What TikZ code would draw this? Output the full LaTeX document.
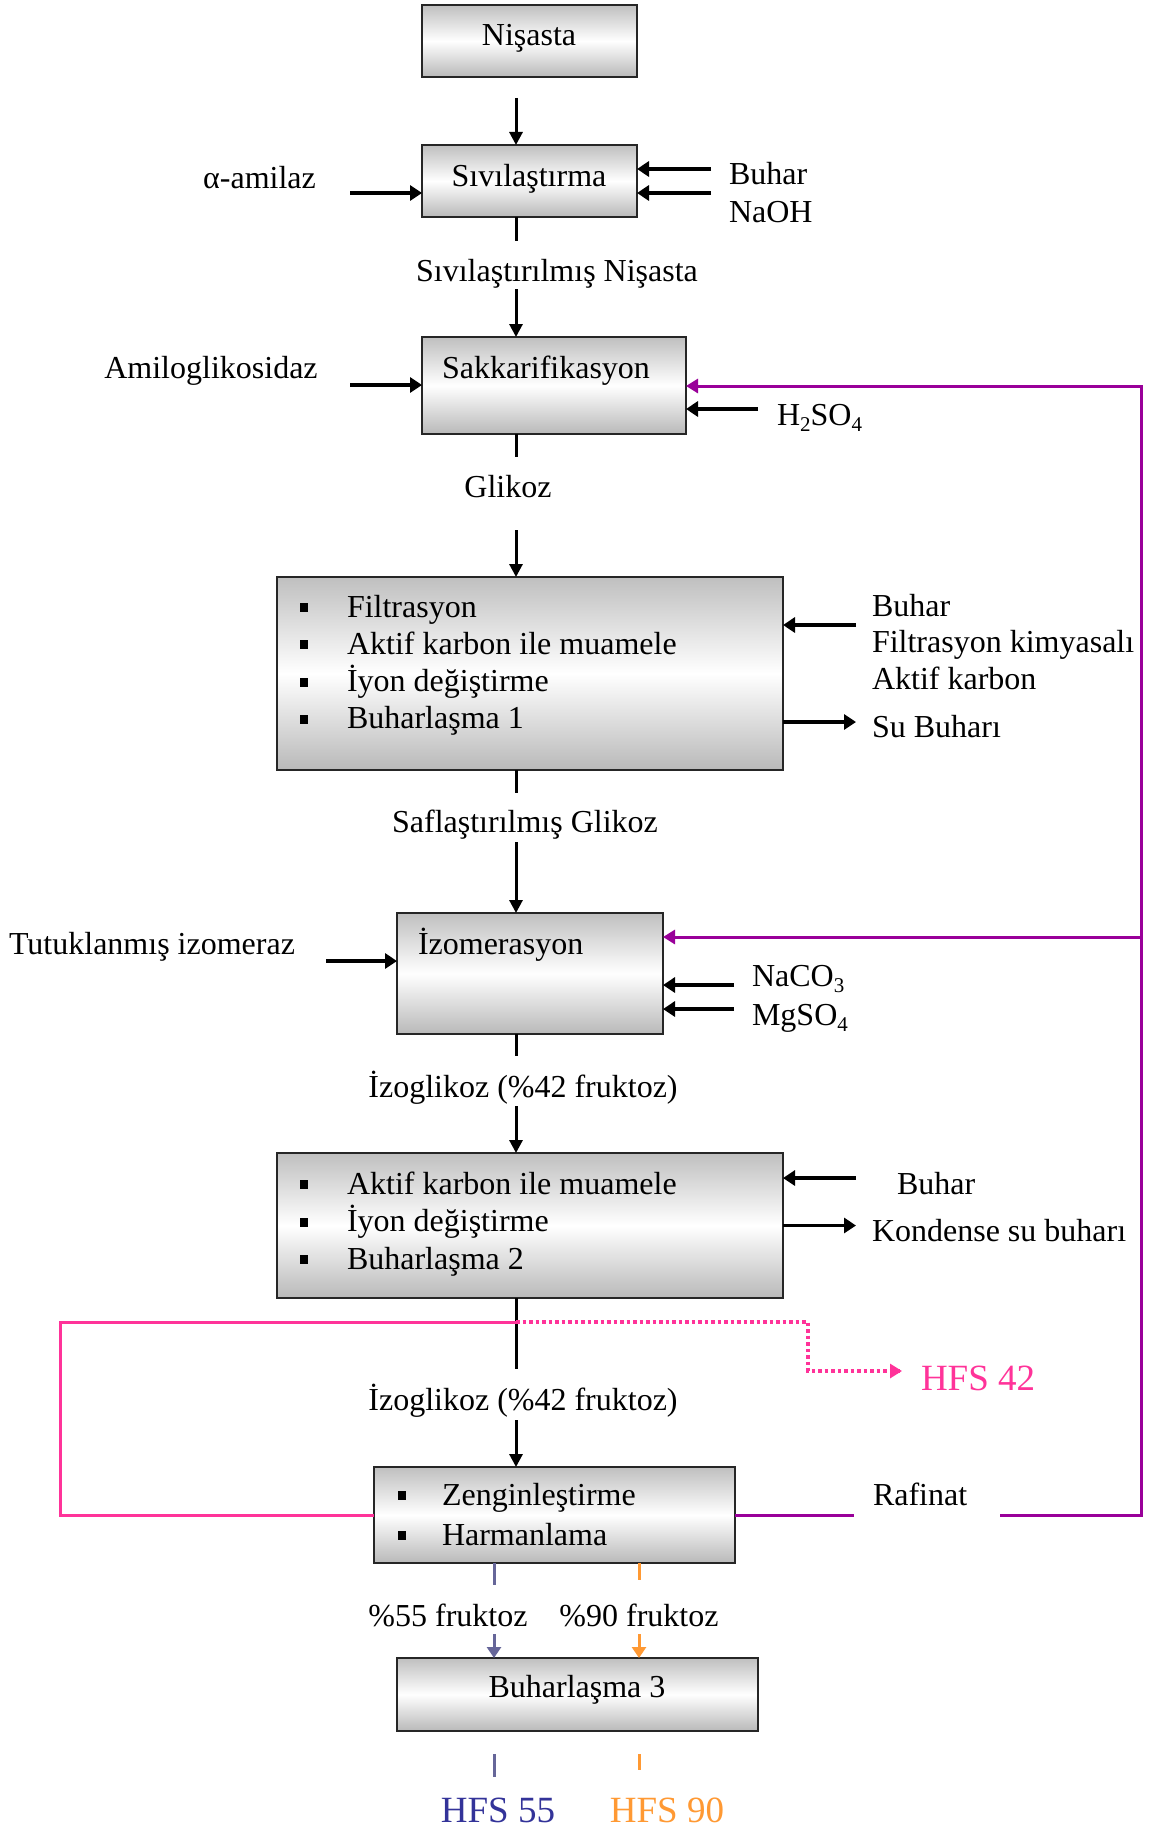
\documentclass[tikz,border=0pt]{standalone}
\usepackage{fontspec}
\setmainfont{Liberation Serif}
\usetikzlibrary{arrows.meta}
\definecolor{purp}{RGB}{153,0,153}
\definecolor{pinkc}{RGB}{255,51,153}
\definecolor{bluel}{RGB}{102,102,153}
\definecolor{bluet}{RGB}{51,51,153}
\definecolor{orangec}{RGB}{255,153,51}
\newcommand\mysub[1]{\raisebox{-6pt}{\fontsize{21}{21}\selectfont #1}}
\newcommand\bul[1]{\makebox[#1][l]{\rule[5pt]{8pt}{9pt}}}
\newcommand\lst[2]{{\fontsize{32}{#1}\selectfont\begin{tabular}[t]{@{}l@{}}#2\end{tabular}}}
\begin{document}
\begin{tikzpicture}[x=1pt,y=-1pt,
  every node/.style={font=\fontsize{32}{37}\selectfont, inner sep=0pt, outer sep=0pt},
  box/.style={draw=black!85, line width=2.5pt, rectangle, inner sep=0pt,
    top color=gray!50, bottom color=gray!55, middle color=white},
  txt/.style={anchor=base},
  ltxt/.style={anchor=base west},
  big/.style={font=\fontsize{37}{40}\selectfont},
  ln/.style={line width=3pt},
  arr/.style={line width=3pt, -{Triangle[length=13pt,width=13pt]}},
  harr/.style={line width=3.5pt, -{Triangle[length=12pt,width=15pt]}},
  pline/.style={line width=3pt},
  parr/.style={line width=3pt, -{Triangle[length=12pt,width=14pt]}},
  carr/.style={line width=3pt, -{Triangle[length=11pt,width=14pt]}},
]
\fill[white] (0,0) rectangle (1148,1827);
\useasboundingbox (0,0) rectangle (1148,1827);

% boxes
\node[box, minimum width=215pt, minimum height=72pt] (n1) at (529.5,41) {};
\node[box, minimum width=215pt, minimum height=72pt] (n2) at (529.5,181) {};
\node[box, minimum width=264pt, minimum height=97pt] (n3) at (554,385.5) {};
\node[box, minimum width=506pt, minimum height=193pt] (n4) at (530,673.5) {};
\node[box, minimum width=266pt, minimum height=121pt] (n5) at (530,973.5) {};
\node[box, minimum width=506pt, minimum height=145pt] (n6) at (530,1225.5) {};
\node[box, minimum width=361pt, minimum height=96pt] (n7) at (554.5,1515) {};
\node[box, minimum width=361pt, minimum height=73pt] (n8) at (577.5,1694.5) {};

% box texts
\node[txt] (t1) at (529,46) {Nişasta};
\node[txt] (t2) at (529,187) {Sıvılaştırma};
\node[txt] (t3) at (546,378) {Sakkarifikasyon};
\node[ltxt] (t4) at (300,617) {\lst{37}{\bul{47pt}Filtrasyon\\ \bul{47pt}Aktif karbon ile muamele\\ \bul{47pt}İyon değiştirme\\ \bul{47pt}Buharlaşma 1}};
\node[ltxt] (t5) at (418,954) {İzomerasyon};
\node[ltxt] (t6) at (300,1194) {\lst{37.5}{\bul{47pt}Aktif karbon ile muamele\\ \bul{47pt}İyon değiştirme\\ \bul{47pt}Buharlaşma 2}};
\node[ltxt] (t7) at (398,1505) {\lst{40}{\bul{44pt}Zenginleştirme\\ \bul{44pt}Harmanlama}};
\node[txt] (t8) at (577,1697) {Buharlaşma 3};

% side labels
\node[txt] (tal) at (259.5,189) {α-amilaz};
\node[ltxt] (tbu) at (729,185) {\lst{38}{Buhar\\NaOH}};
\node[txt] (tl1) at (557,281) {Sıvılaştırılmış Nişasta};
\node[txt] (tam) at (211,378) {Amiloglikosidaz};
\node[ltxt] (th) at (777,425) {H\mysub{2}SO\mysub{4}};
\node[txt] (tgl) at (508,497) {Glikoz};
\node[ltxt] (t4r) at (872,616) {\lst{36.5}{Buhar\\Filtrasyon kimyasalı\\Aktif karbon}};
\node[ltxt] (tsu) at (872,737) {Su Buharı};
\node[txt] (tsg) at (525,832) {Saflaştırılmış Glikoz};
\node[txt] (ttu) at (152,954) {Tutuklanmış izomeraz};
\node[ltxt] (tna) at (752,986) {NaCO\mysub{3}};
\node[ltxt] (tmg) at (752,1025) {MgSO\mysub{4}};
\node[txt] (tiz1) at (523,1097) {İzoglikoz (\%42 fruktoz)};
\node[ltxt] (tb6) at (897,1194) {Buhar};
\node[ltxt] (tko) at (872,1241.5) {Kondense su buharı};
\node[txt] (tiz2) at (523,1410) {İzoglikoz (\%42 fruktoz)};
\node[ltxt, big, text=pinkc] (th42) at (921,1390) {HFS 42};
\node[ltxt] (traf) at (873,1505) {Rafinat};
\node[txt] (t55) at (448,1626) {\%55 fruktoz};
\node[txt] (t90) at (639,1626) {\%90 fruktoz};
\node[txt, big, text=bluet] (thf55) at (498,1822) {HFS 55};
\node[txt, big, text=orangec] (thf90) at (667,1822) {HFS 90};

% main vertical flow
\coordinate (ax) at (516,0);
\coordinate (c1) at (516,98);
\coordinate (c2) at (516,241);
\coordinate (c3) at (516,289);
\coordinate (c4) at (516,457);
\coordinate (c5) at (516,530);
\coordinate (c6) at (516,793);
\coordinate (c7) at (516,842);
\coordinate (c8) at (516,1056);
\coordinate (c9) at (516,1106);
\coordinate (c10) at (516,1369);
\coordinate (c11) at (516,1420);
\draw[arr] (c1) -- (n2.north -| ax);
\draw[ln] (n2.south -| ax) -- (c2);
\draw[arr] (c3) -- (n3.north -| ax);
\draw[ln] (n3.south -| ax) -- (c4);
\draw[arr] (c5) -- (n4.north -| ax);
\draw[ln] (n4.south -| ax) -- (c6);
\draw[arr] (c7) -- (n5.north -| ax);
\draw[ln] (n5.south -| ax) -- (c8);
\draw[arr] (c9) -- (n6.north -| ax);
\draw[ln] (n6.south -| ax) -- (c10);
\draw[arr] (c11) -- (n7.north -| ax);

% side arrows
\coordinate (s1) at (350,193);
\draw[harr] (s1) -- (s1 -| n2.west);
\coordinate (s2) at (711,169);
\draw[harr] (s2) -- (s2 -| n2.east);
\coordinate (s3) at (711,193);
\draw[harr] (s3) -- (s3 -| n2.east);
\coordinate (s4) at (350,385);
\draw[harr] (s4) -- (s4 -| n3.west);
\coordinate (s5) at (758,409);
\draw[harr] (s5) -- (s5 -| n3.east);
\coordinate (s6) at (856,625);
\draw[harr] (s6) -- (s6 -| n4.east);
\coordinate (s7) at (856,722);
\draw[harr] (s7 -| n4.east) -- (s7);
\coordinate (s8) at (326,961);
\draw[harr] (s8) -- (s8 -| n5.west);
\coordinate (s9) at (734,985);
\draw[harr] (s9) -- (s9 -| n5.east);
\coordinate (s10) at (734,1009);
\draw[harr] (s10) -- (s10 -| n5.east);
\coordinate (s11) at (856,1178);
\draw[harr] (s11) -- (s11 -| n6.east);
\coordinate (s12) at (856,1225.5);
\draw[harr] (s12 -| n6.east) -- (s12);

% purple recycle (Rafinat)
\coordinate (p1) at (854,1515);
\coordinate (p2) at (1000,1515);
\coordinate (pc) at (1141,1515);
\coordinate (pt) at (1141,386);
\coordinate (pm) at (1141,937);
\draw[purp, pline] (n7.east) -- (p1);
\draw[purp, parr] (p2) -- (pc) -- (pt) -- (pt -| n3.east);
\draw[purp, parr] (pm) -- (pm -| n5.east);

% pink line and dotted HFS 42 branch
\coordinate (k1) at (516,1322);
\coordinate (k2) at (60,1322);
\coordinate (k3) at (60,1515);
\draw[pinkc, pline] (k1) -- (k2) -- (k3) -- (n7.west);
\coordinate (d1) at (808,1322);
\coordinate (d2) at (808,1371);
\coordinate (d3) at (902,1371);
\draw[pinkc, line width=3.5pt, dash pattern=on 3.5pt off 3pt] (k1) -- (d1) -- (d2) -- (d3);
\draw[pinkc, parr] (d3) ++(-2,0) -- (d3);

% HFS 55 / 90 streams
\coordinate (b1) at (494,1585);
\coordinate (b2) at (494,1634);
\coordinate (b3) at (494,1754);
\coordinate (b4) at (494,1777);
\draw[bluel, ln] (n7.south -| b1) -- (b1);
\draw[bluel, carr] (b2) -- (n8.north -| b2);
\draw[bluel, ln] (b3) -- (b4);
\coordinate (o1) at (639,1580);
\coordinate (o2) at (639,1634);
\coordinate (o3) at (639,1754);
\coordinate (o4) at (639,1770);
\draw[orangec, ln] (n7.south -| o1) -- (o1);
\draw[orangec, carr] (o2) -- (n8.north -| o2);
\draw[orangec, ln] (o3) -- (o4);
\end{tikzpicture}
\end{document}
